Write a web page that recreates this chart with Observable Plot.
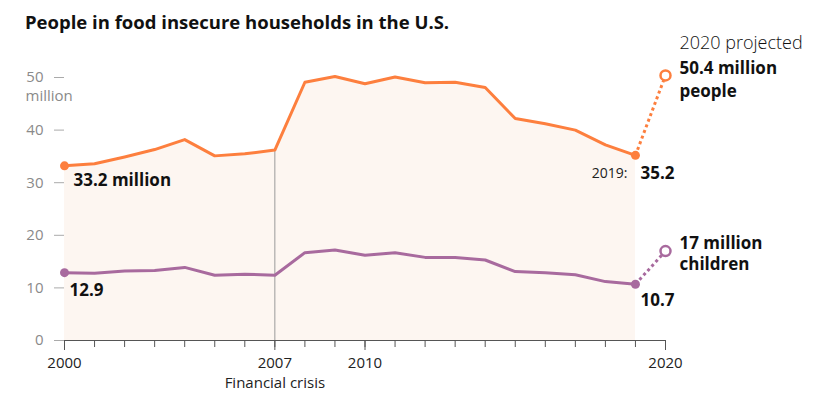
<!DOCTYPE html>
<html><head><meta charset="utf-8">
<script src="https://cdn.jsdelivr.net/npm/d3@7"></script>
<script src="https://cdn.jsdelivr.net/npm/@observablehq/plot@0.6"></script>
<style>
body{margin:0;background:#fff;font-family:"Open Sans",sans-serif;}
#title{height:45px;box-sizing:border-box;padding:10px 0 0 25px;font-weight:700;font-size:18.5px;line-height:24px;color:#111;}
#chart svg{overflow:visible;}
</style></head><body>
<div id="title">People in food insecure households in the U.S.</div>
<div id="chart"></div>
<script>
const years = [2000,2001,2002,2003,2004,2005,2006,2007,2008,2009,2010,2011,2012,2013,2014,2015,2016,2017,2018,2019];
const people = [33.2,33.6,34.9,36.3,38.2,35.1,35.5,36.2,49.1,50.2,48.8,50.1,49.0,49.1,48.1,42.2,41.2,40.0,37.2,35.2];
const children = [12.9,12.8,13.2,13.3,13.9,12.4,12.6,12.4,16.7,17.2,16.2,16.7,15.8,15.8,15.3,13.1,12.9,12.5,11.2,10.7];
const projYear = 2020;
const projPeople = 50.4;
const projChildren = 17.0;
const crisisYear = 2007;
const yTicks = [0,10,20,30,40,50];
const xMinorTicks = [2000,2001,2002,2003,2004,2005,2006,2007,2008,2009,2010,2011,2012,2013,2014,2015,2016,2017,2018,2019,2020];
const xLabelTicks = [2000,2007,2010,2020];

const ORANGE = "#fd7f3e", PURPLE = "#a86a9e", FILL = "#fdf6f1";
const peopleData = years.map((year, i) => ({year, value: people[i]}));
const childrenData = years.map((year, i) => ({year, value: children[i]}));
const last = years.length - 1;
const peopleProj = [{year: years[last], value: people[last]}, {year: projYear, value: projPeople}];
const childrenProj = [{year: years[last], value: children[last]}, {year: projYear, value: projChildren}];
const crisisValue = people[years.indexOf(crisisYear)];

const bold = {fontSize: 17, fontWeight: 700, fill: "#111", textAnchor: "start"};
const dotted = {strokeWidth: 3, strokeDasharray: "3,3", strokeLinecap: "butt"};

const chart = Plot.plot({
  width: 833, height: 364,
  marginLeft: 64, marginRight: 168, marginTop: 32, marginBottom: 69,
  style: {fontFamily: "'Open Sans', sans-serif", background: "#fff", overflow: "visible"},
  x: {type: "linear", domain: [2000, 2020]},
  y: {domain: [0, 50]},
  marks: [
    Plot.areaY(peopleData, {x: "year", y: "value", fill: FILL}),
    Plot.ruleX([crisisYear], {y1: 0, y2: crisisValue, stroke: "#9a9a9a", strokeWidth: 1}),
    Plot.axisY(yTicks, {tickSize: 10, tickPadding: 11, fontSize: 15, fill: "#8a8a8a", stroke: "#aaa", label: null}),
    Plot.text([{year: 2000, value: 50}], {x: "year", y: "value", text: () => "million", dx: -39, dy: 19, textAnchor: "start", fontSize: 15, fill: "#8a8a8a"}),
    Plot.ruleY([0], {stroke: "#555"}),
    Plot.axisX(xMinorTicks, {tickSize: 7, tickFormat: () => "", stroke: "#555", label: null}),
    Plot.axisX(xLabelTicks, {tickSize: 10, tickPadding: 7, tickFormat: d => String(d), fontSize: 15, fill: "#222", stroke: "#555", label: null}),
    Plot.text([{year: crisisYear, value: 0}], {x: "year", y: "value", text: () => "Financial crisis", dy: 43, fontSize: 15, fill: "#222"}),
    Plot.line(peopleProj, {x: "year", y: "value", stroke: ORANGE, ...dotted}),
    Plot.line(childrenProj, {x: "year", y: "value", stroke: PURPLE, ...dotted}),
    Plot.line(peopleData, {x: "year", y: "value", stroke: ORANGE, strokeWidth: 3}),
    Plot.line(childrenData, {x: "year", y: "value", stroke: PURPLE, strokeWidth: 3}),
    Plot.dot([peopleData[0], peopleData[last]], {x: "year", y: "value", r: 4.5, fill: ORANGE}),
    Plot.dot([childrenData[0], childrenData[last]], {x: "year", y: "value", r: 4.5, fill: PURPLE}),
    Plot.dot([peopleProj[1]], {x: "year", y: "value", r: 5, fill: "#fff", stroke: ORANGE, strokeWidth: 2.5}),
    Plot.dot([childrenProj[1]], {x: "year", y: "value", r: 5, fill: "#fff", stroke: PURPLE, strokeWidth: 2.5}),
    Plot.text([peopleData[0]], {x: "year", y: "value", text: () => "33.2 million", dx: 9, dy: 15, ...bold}),
    Plot.text([childrenData[0]], {x: "year", y: "value", text: () => "12.9", dx: 5, dy: 18, ...bold}),
    Plot.text([peopleData[last]], {x: "year", y: "value", text: () => "2019:", dx: -8, dy: 18, fontSize: 14, fill: "#222", textAnchor: "end"}),
    Plot.text([peopleData[last]], {x: "year", y: "value", text: () => "35.2", dx: 5, dy: 18, ...bold}),
    Plot.text([childrenData[last]], {x: "year", y: "value", text: () => "10.7", dx: 5, dy: 16, ...bold}),
    Plot.text([peopleProj[1]], {x: "year", y: "value", text: () => "2020 projected", dx: 14, dy: -32, fontSize: 18, fontWeight: 300, fill: "#111", textAnchor: "start"}),
    Plot.text([peopleProj[1]], {x: "year", y: "value", text: () => "50.4 million\npeople", dx: 14, dy: 3, lineHeight: 1.3, ...bold}),
    Plot.text([childrenProj[1]], {x: "year", y: "value", text: () => "17 million\nchildren", dx: 14, dy: 2, lineHeight: 1.22, ...bold})
  ]
});
document.getElementById("chart").appendChild(chart);
</script>
</body></html>
